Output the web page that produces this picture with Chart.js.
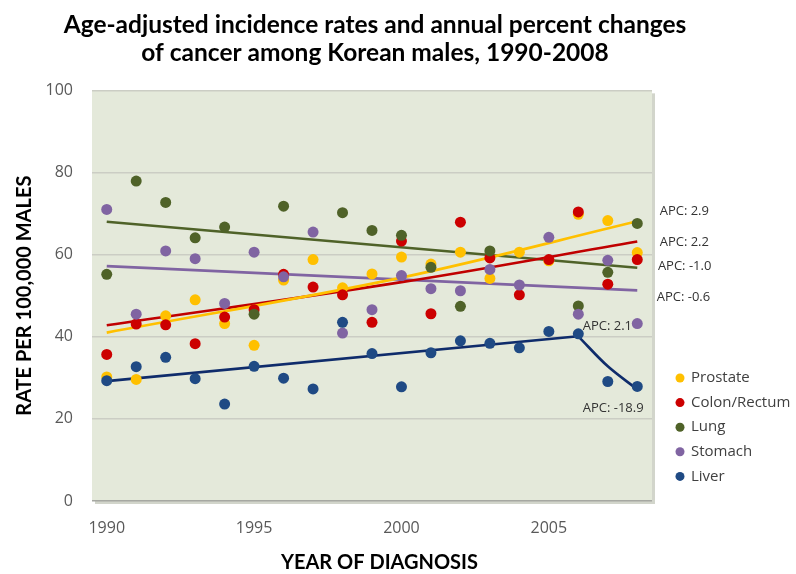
<!DOCTYPE html>
<html>
<head>
<meta charset="utf-8">
<title>Cancer incidence among Korean males</title>
<script src="https://cdn.jsdelivr.net/npm/chart.js@4.4.1/dist/chart.umd.min.js"></script>
<style>
  html, body { margin: 0; padding: 0; background: #fff; }
  #wrap { width: 796px; height: 574px; }
</style>
</head>
<body>
<div id="wrap"><canvas id="incidenceChart" width="796" height="574"></canvas></div>
<script>
// yearly observed rates (per 100,000), read off the figure
// null = point not visible in the figure (hidden behind another dot)
const years = [1990, 1991, 1992, 1993, 1994, 1995, 1996, 1997, 1998, 1999,
               2000, 2001, 2002, 2003, 2004, 2005, 2006, 2007, 2008];
const prostate = [30.2, 29.6, 45.1, 49.0, 43.2, 37.9, 53.8, 58.8, 51.9, 55.3,
                  59.4, 57.7, 60.6, 54.2, 60.6, 58.5, 69.8, 68.3, 60.5];
const colonRectum = [35.7, 43.1, 42.9, 38.3, 44.8, 46.6, 55.2, 52.1, 50.2, 43.5,
                     63.3, 45.6, 67.9, 59.2, 50.2, 58.8, 70.4, 52.8, 58.8];
const lung = [55.2, 77.9, 72.7, 64.1, 66.7, 45.5, 71.8, null, 70.2, 65.9,
              64.7, 56.9, 47.4, 60.9, null, null, 47.5, 55.7, 67.6];
const stomach = [71.0, 45.5, 60.9, 59.0, 48.1, 60.6, 54.6, 65.5, 40.9, 46.6,
                 54.9, 51.7, 51.2, 56.4, 52.6, 64.2, 45.5, 58.6, 43.2];
const liver = [29.3, 32.7, 35.0, 29.8, 23.6, 32.8, 29.9, 27.3, 43.5, 35.9,
               27.8, 36.1, 39.0, 38.4, 37.3, 41.3, 40.7, 29.1, 27.9];

// fitted trend lines (joinpoint segments)
const prostateTrendYears = [1990, 2000, 2008];
const prostateTrend = [41.0, 54.4, 68.1];
const colonTrendYears = [1990, 2000, 2008];
const colonTrend = [42.8, 53.3, 63.2];
const lungTrendYears = [1990, 2008];
const lungTrend = [68.0, 56.8];
const stomachTrendYears = [1990, 2008];
const stomachTrend = [57.2, 51.3];
const liverTrendYears1 = [1990, 2006];
const liverTrend1 = [29.2, 40.1];
const liverTrendYears2 = [2006, 2007, 2008];
const liverTrend2 = [40.1, 32.8, 27.2];

const xTickLabels = [1990, 1995, 2000, 2005];
const seriesNames = ['Prostate', 'Colon/Rectum', 'Lung', 'Stomach', 'Liver'];
const apcTexts = ['APC: 2.9', 'APC: 2.2', 'APC: -1.0', 'APC: -0.6', 'APC: 2.1', 'APC: -18.9'];
const apcYears = [2008.76, 2008.76, 2008.70, 2008.66, 2006.15, 2006.15];
const apcValues = [70.6, 63.0, 57.1, 49.6, 42.6, 22.6];

const dotColors = ['#FFC000', '#CC0000', '#4F6228', '#8064A2', '#1F4A84'];
const lineColors = ['#FFC000', '#C00000', '#4F6228', '#8064A2', '#0F2C6B'];
const PLOT_BG = '#E4E9DA';
const TEXT_FONT = '"Open Sans", "DejaVu Sans", sans-serif';
const TITLE_FONT = 'Lato, "Open Sans", sans-serif';

const toPoints = (xs, ys) => xs.map((x, i) => ({ x: x, y: ys[i] }));

function dotSet(label, values, idx) {
    return {
        type: 'scatter',
        label: label,
        data: toPoints(years, values),
        backgroundColor: dotColors[idx],
        borderWidth: 0,
        pointRadius: 5.5,
        pointHoverRadius: 5.5,
        order: 5 - idx
    };
}

function trendSet(xs, ys, idx, smooth) {
    return {
        type: 'line',
        label: seriesNames[idx] + ' trend',
        data: toPoints(xs, ys),
        borderColor: lineColors[idx],
        borderWidth: 2.6,
        pointRadius: 0,
        fill: false,
        tension: smooth ? 0.35 : 0,
        order: 10
    };
}

// light plot panel with a soft shadow, drawn under the grid
const plotBackground = {
    id: 'plotBackground',
    beforeDraw(chart) {
        const { ctx, chartArea: a } = chart;
        ctx.save();
        ctx.fillStyle = '#D2D5CB';
        ctx.fillRect(a.left + 3, a.top + 3, a.width, a.height);
        ctx.fillStyle = PLOT_BG;
        ctx.fillRect(a.left, a.top, a.width, a.height);
        ctx.restore();
    }
};

// legend on the right and the APC labels
const sideNotes = {
    id: 'sideNotes',
    afterDraw(chart) {
        const { ctx, chartArea: a, scales } = chart;
        ctx.save();
        ctx.textBaseline = 'middle';
        ctx.textAlign = 'left';
        ctx.font = '15px ' + TEXT_FONT;
        seriesNames.forEach((name, i) => {
            const y = a.bottom - 123 + i * 24.6;
            ctx.fillStyle = dotColors[i];
            ctx.beginPath();
            ctx.arc(a.right + 28, y, 4.5, 0, Math.PI * 2);
            ctx.fill();
            ctx.fillStyle = '#404040';
            ctx.fillText(name, a.right + 39, y);
        });
        ctx.font = '13px ' + TEXT_FONT;
        ctx.fillStyle = '#333333';
        apcTexts.forEach((t, i) => {
            ctx.fillText(t, scales.x.getPixelForValue(apcYears[i]), scales.y.getPixelForValue(apcValues[i]));
        });
        ctx.restore();
    }
};

const datasets = [
    dotSet('Prostate', prostate, 0),
    dotSet('Colon/Rectum', colonRectum, 1),
    dotSet('Lung', lung, 2),
    dotSet('Stomach', stomach, 3),
    dotSet('Liver', liver, 4),
    trendSet(prostateTrendYears, prostateTrend, 0, true),
    trendSet(colonTrendYears, colonTrend, 1, true),
    trendSet(lungTrendYears, lungTrend, 2, false),
    trendSet(stomachTrendYears, stomachTrend, 3, false),
    trendSet(liverTrendYears1, liverTrend1, 4, false),
    trendSet(liverTrendYears2, liverTrend2, 4, true)
];

const incidenceChart = new Chart(document.getElementById('incidenceChart').getContext('2d'), {
    type: 'scatter',
    data: { datasets: datasets },
    plugins: [plotBackground, sideNotes],
    options: {
        responsive: false,
        devicePixelRatio: 1,
        animation: false,
        layout: { padding: { left: 0, right: 46, top: 0, bottom: 0 } },
        plugins: {
            legend: { display: false },
            tooltip: { enabled: false },
            title: {
                display: true,
                text: ['Age-adjusted incidence rates and annual percent changes',
                       'of cancer among Korean males, 1990-2008'],
                color: '#000000',
                font: { family: TITLE_FONT, size: 24.5, weight: 'bold', lineHeight: 1.15 },
                padding: { top: 11, bottom: 23 }
            }
        },
        scales: {
            x: {
                type: 'linear',
                min: 1989.5,
                max: 2008.5,
                afterBuildTicks: (scale) => { scale.ticks = xTickLabels.map(v => ({ value: v })); },
                afterFit: (scale) => { scale.height = 73; },
                grid: { display: false, drawTicks: false },
                border: { display: false },
                ticks: {
                    padding: 18,
                    color: '#595959',
                    font: { family: TEXT_FONT, size: 16 },
                    callback: (v) => String(v)
                },
                title: {
                    display: true,
                    // leading em space nudges the centred title a little to the right, as in the original
                    text: '\u2003YEAR OF DIAGNOSIS',
                    color: '#000000',
                    font: { family: TITLE_FONT, size: 20, weight: 'bold', lineHeight: 1.1 },
                    padding: { top: 0, bottom: 0 }
                }
            },
            y: {
                min: 0,
                max: 100,
                afterFit: (scale) => { scale.width = 92; },
                grid: {
                    drawTicks: false,
                    lineWidth: 1.5,
                    color: (c) => c.tick && c.tick.value === 0 ? '#A6A8A2' : '#CBCDC4'
                },
                border: { display: false },
                ticks: {
                    stepSize: 20,
                    padding: 19,
                    color: '#595959',
                    font: { family: TEXT_FONT, size: 16 }
                },
                title: {
                    display: true,
                    text: 'RATE PER 100,000 MALES',
                    color: '#000000',
                    font: { family: TITLE_FONT, size: 20, weight: 'bold', lineHeight: 1.2 },
                    padding: { top: 13, bottom: 0 }
                }
            },
            yRight: {
                position: 'right',
                min: 0,
                max: 100,
                afterFit: (scale) => { scale.width = 98; },
                grid: { display: false, drawTicks: false },
                border: { display: false },
                ticks: { display: false }
            }
        }
    }
});
</script>
</body>
</html>
